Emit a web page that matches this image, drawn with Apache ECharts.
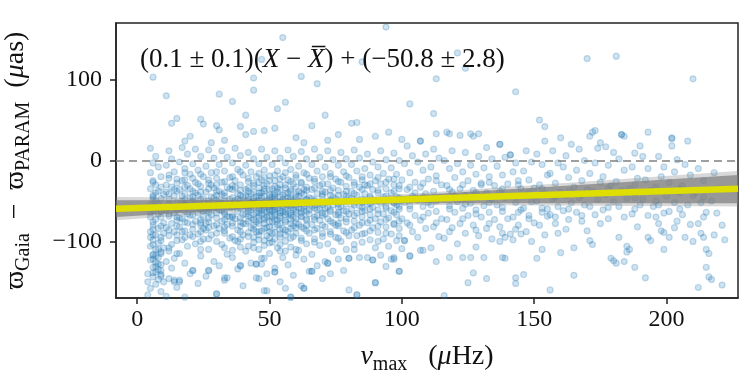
<!DOCTYPE html>
<html>
<head>
<meta charset="utf-8">
<script src="https://cdn.jsdelivr.net/npm/echarts@6/dist/echarts.min.js"></script>
<style>
  html, body { margin: 0; padding: 0; background: #fff; }
  #main { width: 750px; height: 375px; }
</style>
</head>
<body>
<div id="main"></div>
<script>
// tick positions
const xTicks = [0, 50, 100, 150, 200];
const yTicks = [-100, 0, 100];

// stars: [nu_max (uHz), parallax difference (uas)]
const stars = [
  // low nu_max streak
  [5,15],[7,5],[6,-3],[8,-8],[5,-15],[9,-20],[6,-25],[7,-30],[5,-35],[8,-38],[10,-42],[6,-45],[7,-50],[5,-55],[9,-58],
  [6,-62],[8,-66],[5,-70],[7,-73],[10,-77],[6,-80],[8,-84],[5,-88],[7,-92],[9,-95],[6,-98],[8,-102],[5,-106],[7,-110],
  [9,-113],[6,-116],[8,-120],[5,-123],[7,-126],[9,-129],[6,-132],[8,-135],[7,-138],[9,-141],[6,-144],[8,-147],[10,-150],
  [7,-153],[5,-158],[9,-162],[4,-166],[11,-168],[8,-128],[7,-118],[10,-108],[6,-122],[9,-136],[5,-95],[10,-60],[11,-30],
  [10,-90],[11,-125],[4,-140],[4,-150],[6,-48],[8,-54],[5,-64],[7,-40],[9,-70],[6,-85],[8,-110],[7,-131],[6,-139],
  // dense clump 11-100
  [12,12],[13,2],[11,-6],[14,-14],[12,-22],[15,-28],[13,-33],[11,-39],[14,-44],[12,-48],[15,-52],[13,-57],[11,-61],
  [14,-65],[12,-69],[15,-74],[13,-78],[11,-83],[14,-88],[12,-93],[15,-99],[13,-104],[12,-112],[14,-121],[13,-133],
  [12,-146],[15,-157],[14,-36],[12,-58],[15,-81],[14,-150],[16,-148],[18,-169],
  [17,16],[19,8],[16,-2],[18,-10],[20,-17],[17,-25],[19,-31],[16,-36],[18,-41],[20,-46],[17,-50],[19,-55],[16,-59],
  [18,-63],[20,-68],[17,-72],[19,-77],[16,-82],[18,-87],[20,-92],[17,-98],[19,-106],[16,-115],[18,-127],[20,-140],
  [17,-44],[19,-66],[16,-71],[18,-53],[20,-35],[17,-88],[18,-24],
  [22,14],[24,5],[21,-4],[23,-12],[25,-20],[22,-27],[24,-32],[21,-38],[23,-43],[25,-47],[22,-52],[24,-56],[21,-60],
  [23,-65],[25,-70],[22,-75],[24,-80],[21,-85],[23,-91],[25,-97],[22,-103],[24,-118],[21,-136],[23,-152],[25,-62],
  [22,-40],[24,-73],[21,-50],[23,-29],[25,-84],[24,-110],
  [27,13],[29,3],[26,-7],[28,-15],[30,-22],[27,-28],[29,-34],[26,-39],[28,-45],[30,-49],[27,-53],[29,-58],[26,-62],
  [28,-67],[30,-71],[27,-76],[29,-81],[26,-86],[28,-92],[30,-100],[27,-110],[29,-125],[30,-165],[26,-143],[28,-55],
  [30,-38],[27,-64],[29,-46],[26,-78],[28,-30],[27,-136],
  [32,12],[34,4],[31,-5],[33,-13],[35,-21],[32,-27],[34,-33],[31,-38],[33,-44],[35,-48],[32,-53],[34,-57],[31,-61],
  [33,-66],[35,-70],[32,-75],[34,-79],[31,-84],[33,-90],[35,-96],[32,-104],[34,-116],[31,-130],[33,-148],[35,-58],
  [32,-42],[34,-69],[31,-51],[33,-82],[35,-35],[32,-62],[33,-145],
  [37,15],[39,6],[36,-3],[38,-11],[40,-18],[37,-25],[39,-30],[36,-36],[38,-41],[40,-45],[37,-50],[39,-54],[36,-58],
  [38,-63],[40,-67],[37,-72],[39,-76],[36,-81],[38,-86],[40,-92],[37,-99],[39,-107],[36,-120],[38,-134],[40,-155],
  [37,-56],[39,-43],[36,-70],[38,-48],[40,-78],[37,-33],[39,-88],[39,-130],[38,-100],
  [42,10],[44,2],[41,-6],[43,-14],[45,-20],[42,-26],[44,-31],[41,-36],[43,-41],[45,-45],[42,-49],[44,-53],[41,-57],
  [43,-61],[45,-65],[42,-69],[44,-73],[41,-78],[43,-83],[45,-88],[42,-94],[44,-101],[41,-112],[43,-127],[45,-145],
  [42,-60],[44,-47],[41,-66],[43,-52],[45,-76],[42,-38],[44,-85],[41,-44],[43,-71],[45,-128],[44,-108],
  [47,14],[49,4],[46,-4],[48,-12],[50,-19],[47,-24],[49,-29],[46,-34],[48,-38],[50,-42],[47,-46],[49,-50],[46,-54],
  [48,-58],[50,-62],[47,-66],[49,-70],[46,-74],[48,-78],[50,-82],[47,-87],[49,-93],[46,-98],[48,-105],[50,-115],
  [47,-128],[49,-140],[48,-161],[46,-44],[48,-52],[50,-57],[47,-61],[49,-64],[46,-69],[48,-73],[50,-49],[47,-40],
  [49,-83],[46,-88],[48,-31],[47,-121],[50,-96],[46,-60],
  [52,12],[54,3],[51,-5],[53,-13],[55,-20],[52,-25],[54,-30],[51,-35],[53,-39],[55,-43],[52,-47],[54,-51],[51,-55],
  [53,-59],[55,-63],[52,-67],[54,-71],[51,-75],[53,-79],[55,-84],[52,-89],[54,-95],[51,-101],[53,-108],[55,-120],
  [52,-133],[54,-150],[51,-45],[53,-53],[55,-57],[52,-61],[54,-65],[51,-70],[53,-74],[55,-48],[52,-41],[54,-86],
  [51,-90],[53,-34],[52,-138],[54,-112],[51,-62],
  [57,13],[59,5],[56,-3],[58,-11],[60,-18],[57,-24],[59,-29],[56,-34],[58,-38],[60,-42],[57,-46],[59,-50],[56,-54],
  [58,-58],[60,-62],[57,-66],[59,-70],[56,-74],[58,-78],[60,-83],[57,-88],[59,-94],[56,-100],[58,-107],[60,-117],
  [57,-129],[59,-142],[56,-158],[58,-46],[60,-52],[57,-56],[59,-61],[56,-64],[58,-68],[60,-72],[57,-40],[59,-81],
  [56,-92],[58,-169],[60,-110],
  [62,11],[64,2],[61,-7],[63,-15],[65,-22],[62,-28],[64,-33],[61,-38],[63,-42],[65,-46],[62,-50],[64,-54],[61,-58],
  [63,-62],[65,-66],[62,-70],[64,-74],[61,-79],[63,-84],[65,-90],[62,-96],[64,-103],[61,-111],[63,-122],[65,-137],
  [62,-155],[64,-48],[61,-53],[63,-57],[65,-61],[62,-65],[64,-80],[61,-44],[63,-36],[63,-158],
  [67,14],[69,4],[66,-5],[68,-13],[70,-20],[67,-26],[69,-31],[66,-36],[68,-41],[70,-45],[67,-49],[69,-53],[66,-57],
  [68,-61],[70,-65],[67,-70],[69,-74],[66,-79],[68,-84],[70,-90],[67,-97],[69,-105],[66,-116],[68,-130],[70,-146],
  [67,-55],[69,-60],[66,-47],[68,-68],[70,-38],[66,-137],
  [72,12],[74,1],[71,-8],[73,-16],[75,-23],[72,-29],[74,-34],[71,-39],[73,-43],[75,-47],[72,-51],[74,-55],[71,-59],
  [73,-63],[75,-67],[72,-72],[74,-77],[71,-82],[73,-88],[75,-95],[72,-103],[74,-112],[71,-125],[73,-140],[72,-58],
  [74,-45],[71,-66],[73,-51],[75,-80],[72,-127],
  [77,10],[79,2],[76,-6],[78,-14],[80,-21],[77,-27],[79,-32],[76,-37],[78,-42],[80,-46],[77,-50],[79,-54],[76,-58],
  [78,-62],[80,-66],[77,-71],[79,-76],[76,-81],[78,-87],[80,-93],[77,-100],[79,-110],[76,-122],[78,-136],[80,-160],
  [77,-57],[79,-44],[76,-64],[80,-121],
  [82,13],[84,3],[81,-5],[83,-13],[85,-20],[82,-27],[84,-33],[81,-38],[83,-43],[85,-48],[82,-52],[84,-56],[81,-60],
  [83,-65],[85,-70],[82,-75],[84,-80],[81,-86],[83,-93],[85,-101],[82,-110],[84,-120],[83,-166],[81,-47],[85,-58],
  [87,8],[89,-2],[86,-10],[88,-18],[90,-25],[87,-31],[89,-36],[86,-41],[88,-46],[90,-50],[87,-54],[89,-58],[86,-62],
  [88,-67],[90,-72],[87,-77],[89,-83],[86,-90],[88,-98],[90,-108],[87,-120],[90,-151],[88,-53],[86,-30],[89,-123],
  [92,12],[94,1],[91,-8],[93,-16],[95,-23],[92,-29],[94,-35],[91,-40],[93,-45],[95,-49],[92,-53],[94,-57],[91,-61],
  [93,-66],[95,-71],[92,-76],[94,-82],[91,-89],[93,-97],[95,-106],[92,-117],[94,-131],[93,-50],[96,-122],
  [97,9],[99,0],[96,-9],[98,-17],[100,-24],[97,-30],[99,-35],[96,-40],[98,-45],[100,-49],[97,-53],[99,-57],[96,-62],
  [98,-67],[100,-72],[97,-78],[99,-84],[96,-91],[98,-99],[100,-109],[99,-137],[97,-120],[98,-55],
  // sparser high nu_max side
  [102,18],[104,6],[101,-4],[103,-15],[105,-27],[102,-36],[104,-44],[101,-52],[103,-60],[105,-68],[102,-77],
  [104,-88],[101,-99],[103,-118],[105,-40],
  [107,24],[109,8],[106,-2],[108,-12],[110,-23],[107,-33],[109,-41],[106,-49],[108,-57],[110,-65],[107,-74],
  [109,-84],[106,-95],[108,-111],[110,-52],
  [112,14],[114,3],[111,-8],[113,-19],[115,-30],[112,-38],[114,-46],[111,-55],[113,-63],[115,-72],[112,-82],
  [114,-94],[111,-108],[113,-125],[116,-167],
  [117,35],[119,12],[116,0],[118,-10],[120,-21],[117,-31],[119,-39],[116,-47],[118,-56],[120,-64],[117,-73],
  [119,-83],[116,-96],[118,-120],[120,-44],
  [122,31],[124,10],[121,-4],[123,-14],[125,-25],[122,-35],[124,-43],[121,-51],[123,-59],[125,-68],[122,-78],
  [124,-90],[121,-103],[123,-120],[125,-151],[124,-54],
  [127,30],[129,5],[126,-6],[128,-17],[130,-28],[127,-37],[129,-45],[126,-53],[128,-61],[130,-70],[127,-80],
  [129,-93],[128,-107],[127,-139],[126,-120],[130,-30],
  [132,16],[134,2],[131,-9],[133,-20],[135,-31],[132,-40],[134,-48],[131,-56],[133,-64],[135,-73],[132,-84],
  [134,-97],[131,-120],[132,-146],
  [137,20],[139,4],[136,-7],[138,-18],[140,-29],[137,-38],[139,-46],[136,-55],[138,-63],[140,-72],[137,-82],
  [139,-95],[137,-100],[138,-120],[139,-121],
  [141,7],[143,-3],[142,-14],[144,-25],[145,-35],[141,-44],[143,-52],[145,-61],[142,-70],[144,-80],[141,-91],
  [145,-91],[142,-98],[143,-85],[143,-145],[146,-141],[143,-152],
  [147,12],[149,-2],[146,-13],[148,-24],[150,-34],[147,-43],[149,-51],[146,-59],[148,-68],[150,-77],[147,-88],[149,-100],
  [152,50],[154,42],[154,24],[151,8],[153,-5],[155,-18],[152,-30],[154,-41],[151,-50],[153,-59],[155,-69],
  [152,-80],[154,-92],[153,-110],[151,-121],[155,-60],
  [160,28],[157,12],[159,-3],[156,-16],[158,-28],[160,-39],[157,-48],[159,-57],[156,-67],[158,-78],[160,-114],
  [156,-160],[159,-90],
  [164,20],[162,6],[161,-8],[163,-21],[165,-33],[162,-43],[164,-52],[161,-62],[163,-73],[165,-108],[165,-142],[162,-85],
  [167,14],[169,0],[166,-12],[168,-25],[170,-36],[167,-46],[169,-55],[166,-64],[168,-75],[170,-87],[170,126],
  [171,30],[172,35],[173,37],[174,15],[173,-3],[171,-16],[175,-27],[172,-38],[174,-48],[171,-57],[173,-67],
  [175,-78],[172,-104],[171,-99],[175,22],
  [177,17],[180,10],[178,-6],[176,-20],[179,-31],[177,-42],[180,-51],[176,-61],[178,-72],[180,-124],[179,-121],[181,-127],
  [181,129],[183,32],[184,30],[182,2],[184,-12],[181,-26],[183,-37],[185,-47],[182,-57],[184,-70],[184,-125],
  [182,-95],[185,-106],[185,-113],
  [190,18],[188,9],[187,-8],[189,-22],[186,-35],[188,-46],[190,-55],[187,-66],[189,-82],[188,-132],[186,-110],
  [191,5],[193,-10],[192,-24],[194,-37],[191,-48],[195,-57],[193,-68],[192,-145],[193,-95],[194,-99],
  [197,5],[199,-8],[198,-20],[196,-33],[200,-44],[197,-55],[199,-65],[198,-87],[199,-89],[199,-110],[197,-78],
  [202,27],[202,18],[204,1],[203,-14],[201,-27],[205,-40],[203,-52],[201,-63],[204,-75],[201,-95],[203,-83],
  [208,24],[210,101],[207,-5],[209,-18],[206,-31],[210,-43],[208,-55],[206,-67],[209,-79],[207,-95],[210,-100],
  [212,-10],[214,-25],[211,-40],[213,-52],[215,-64],[212,-78],[214,-95],[215,-110],[216,-115],[215,-132],
  [212,-157],[213,-90],
  [218,-15],[220,-35],[217,-50],[219,-65],[221,-80],[216,-144],[217,-147],[218,-92],[222,-98],[221,-154],
  // outliers above the bulk
  [11,80],[31,82],[44,87],[36,73],[53,64],[56,72],[103,70],[15,52],[13,46],[24,51],[25,45],[41,56],[30,43],
  [31,38],[39,42],[41,32],[44,36],[48,37],[52,40],[71,56],[66,43],[76,32],[81,46],[83,47],[84,26],[100,26],
  [107,24],[55,152],[94,165],[6,103],[47,125],[44,102],[62,104],[68,95],[85,122],[121,133],[124,114],[113,101],
  [143,85],[112,58],[20,30],[60,28],[90,30],[63,22],[18,24],[72,25],[95,35],[33,25],[28,22],[113,33],[118,33],
  [126,33],[129,33],[183,32],[193,35],[202,28],[137,20],[141,7],
  // outliers below the bulk
  [30,-165],[21,-136],[49,-161],[66,-137],[72,-127],[83,-166],[90,-151],[99,-137],[103,-118],[107,-111],
  [16,-150],[14,-148],[27,-136],[34,-145],[39,-130],[45,-128],[46,-146],[48,-121],[52,-138],[58,-169],[63,-158],
  [80,-121],[89,-123],[97,-122],[101,-99]
];

// extra stars filling the crowded core of the cloud
const coreStars = [
  [6,-27],[6,-43],[6,-58],[6,-76],[6,-92],[6,-104],[6,-117],
  [9,-33],[9,-47],[9,-63],[9,-81],[9,-99],[9,-115],[9,-143],
  [12,-18],[12,-41],[12,-54],[12,-66],[12,-86],[12,-108],
  [15,-23],[15,-38],[15,-61],[15,-70],[15,-92],[15,-115],
  [18,-15],[18,-33],[18,-49],[18,-58],[18,-76],[18,-95],
  [21,-22],[21,-45],[21,-57],[21,-67],[21,-79],[21,-94],
  [24,-17],[24,-39],[24,-48],[24,-61],[24,-77],[24,-88],[24,-100],
  [27,-24],[27,-35],[27,-50],[27,-59],[27,-71],[27,-83],[27,-97],
  [30,-14],[30,-30],[30,-43],[30,-56],[30,-65],[30,-79],[30,-90],
  [33,-26],[33,-40],[33,-50],[33,-64],[33,-73],[33,-87],[33,-108],
  [36,-20],[36,-31],[36,-46],[36,-55],[36,-68],[36,-77],[36,-94],[36,-111],
  [39,-14],[39,-37],[39,-49],[39,-59],[39,-71],[39,-81],[39,-97],
  [42,-22],[42,-34],[42,-45],[42,-54],[42,-63],[42,-75],[42,-89],[42,-106],
  [44,-28],[44,-39],[44,-50],[44,-58],[44,-67],[44,-80],[44,-95],
  [46,-16],[46,-27],[46,-40],[46,-49],[46,-57],[46,-65],[46,-78],[46,-92],[46,-110],
  [48,-21],[48,-35],[48,-44],[48,-55],[48,-62],[48,-71],[48,-84],[48,-99],
  [50,-25],[50,-37],[50,-46],[50,-53],[50,-60],[50,-68],[50,-76],[50,-88],[50,-102],
  [52,-18],[52,-32],[52,-43],[52,-50],[52,-57],[52,-64],[52,-73],[52,-82],[52,-97],
  [54,-23],[54,-36],[54,-45],[54,-54],[54,-62],[54,-69],[54,-78],[54,-91],[54,-104],
  [56,-15],[56,-30],[56,-41],[56,-50],[56,-59],[56,-67],[56,-76],[56,-86],[56,-112],
  [58,-26],[58,-36],[58,-48],[58,-56],[58,-65],[58,-73],[58,-84],[58,-96],
  [60,-21],[60,-33],[60,-45],[60,-55],[60,-64],[60,-77],[60,-90],
  [62,-27],[62,-40],[62,-52],[62,-60],[62,-69],[62,-82],[62,-99],
  [64,-17],[64,-37],[64,-49],[64,-63],[64,-72],[64,-87],
  [67,-23],[67,-34],[67,-51],[67,-59],[67,-73],[67,-86],[67,-101],
  [70,-29],[70,-42],[70,-55],[70,-68],[70,-80],[70,-94],
  [73,-20],[73,-37],[73,-49],[73,-61],[73,-75],[73,-91],
  [76,-26],[76,-43],[76,-54],[76,-67],[76,-78],[76,-96],
  [79,-19],[79,-38],[79,-50],[79,-63],[79,-72],[79,-89],
  [82,-30],[82,-41],[82,-55],[82,-68],[82,-83],[82,-104],
  [85,-24],[85,-36],[85,-52],[85,-63],[85,-77],[85,-91],
  [88,-29],[88,-44],[88,-60],[88,-74],[88,-87],
  [91,-21],[91,-37],[91,-50],[91,-66],[91,-81],[91,-100],
  [94,-27],[94,-44],[94,-59],[94,-73],[94,-90],
  [97,-23],[97,-38],[97,-52],[97,-64],[97,-79],
  [99,-31],[99,-46],[99,-60],[99,-75],[99,-93],
  [103,-33],[103,-56],[103,-80],[108,-28],[108,-45],[108,-70],[113,-25],[113,-50],[113,-77],
  [118,-36],[118,-60],[118,-88],[123,-30],[123,-47],[123,-72],[128,-40],[128,-66],[128,-86],
  [133,-27],[133,-52],[133,-78],[138,-35],[138,-58],[138,-90],[144,-30],[144,-64],[148,-40],[148,-72],
  [153,-35],[153,-64],[158,-45],[158,-70],[163,-38],[163,-60],[168,-42],[168,-68],[178,-35],[178,-58],
  [188,-30],[188,-60],[196,-50],[196,-70],[205,-35],[205,-60],[214,-45],[214,-70]
];

// fit line and its uncertainty band
const fitX = [-8, 227];
const fitY = [-59.7, -35.0];
const bandX = [-8, 77, 227];
const bandInnerLo = [-70, -53, -53];
const bandInnerHi = [-49, -48.5, -18];
const bandOuterLo = [-74, -54.5, -57];
const bandOuterHi = [-45, -47, -13];

const serif = "'Liberation Serif', 'DejaVu Serif', serif";

function bandSeries(lo, hi, fill) {
  return {
    type: 'custom',
    silent: true,
    clip: true,
    z: 3,
    data: [0],
    renderItem: function (params, api) {
      const pts = [];
      for (let i = 0; i < bandX.length; i++) pts.push(api.coord([bandX[i], hi[i]]));
      for (let i = bandX.length - 1; i >= 0; i--) pts.push(api.coord([bandX[i], lo[i]]));
      return { type: 'polygon', shape: { points: pts }, style: { fill: fill } };
    }
  };
}

const chart = echarts.init(document.getElementById('main'));

const labelRich = {
  i: { fontFamily: serif, fontStyle: 'italic', fontSize: 28, color: '#111', lineHeight: 36 },
  r: { fontFamily: serif, fontSize: 28, color: '#111', lineHeight: 36 },
  s: { fontFamily: serif, fontSize: 20, color: '#111', lineHeight: 22, verticalAlign: 'bottom' }
};

const option = {
  animation: false,
  backgroundColor: '#fff',
  grid: {
    left: 116, right: 12, top: 23, bottom: 77,
    outerBoundsMode: 'none',
    show: true, borderColor: '#222', borderWidth: 1.5
  },
  xAxis: {
    type: 'value',
    min: -8, max: 227,
    splitLine: { show: false },
    axisLine: { onZero: false, lineStyle: { color: '#222', width: 1.5 } },
    axisTick: { customValues: xTicks, length: 6, lineStyle: { color: '#222', width: 1.5 } },
    axisLabel: { customValues: xTicks, margin: 10, color: '#111', fontFamily: serif, fontSize: 24 },
    name: '{i|ν}{s|max}{r|   (}{i|μ}{r|Hz)}',
    nameLocation: 'middle',
    nameGap: 41,
    nameTextStyle: { rich: labelRich }
  },
  yAxis: {
    type: 'value',
    min: -170, max: 170,
    splitLine: { show: false },
    axisLine: { onZero: false, lineStyle: { color: '#222', width: 1.5 } },
    axisTick: { customValues: yTicks, length: 6, lineStyle: { color: '#222', width: 1.5 } },
    axisLabel: {
      customValues: yTicks, margin: 14, color: '#111', fontFamily: serif, fontSize: 24,
      formatter: v => (v < 0 ? '\u2212' + Math.abs(v) : String(v))
    },
    name: '{r|ϖ}{s|Gaia}{r|  \u2212  ϖ}{s|PARAM}{r|  (}{i|μ}{r|as)}',
    nameLocation: 'middle',
    nameRotate: 90,
    nameGap: 82,
    nameTextStyle: { rich: labelRich }
  },
  graphic: [{
    type: 'text',
    left: 140,
    top: 46,
    z: 20,
    style: {
      text: '{r|(0.1 ± 0.1)(}{i|X}{r| \u2212 }{i|X\u0305}{r|) + (\u221250.8 ± 2.8)}',
      rich: {
        r: { fontFamily: serif, fontSize: 27, fill: '#111' },
        i: { fontFamily: serif, fontStyle: 'italic', fontSize: 27, fill: '#111' }
      }
    }
  }],
  series: [
    {
      type: 'scatter',
      data: stars.concat(coreStars),
      symbolSize: 6,
      progressive: 0,
      large: false,
      z: 2,
      itemStyle: {
        color: 'rgba(31,119,180,0.27)',
        borderColor: 'rgba(31,119,180,0.3)',
        borderWidth: 1.2
      },
      markLine: {
        silent: true,
        symbol: 'none',
        label: { show: false },
        lineStyle: { color: '#808080', type: [8, 5], width: 1.5 },
        data: [{ yAxis: 0 }]
      }
    },
    bandSeries(bandOuterLo, bandOuterHi, 'rgba(125,125,125,0.3)'),
    bandSeries(bandInnerLo, bandInnerHi, 'rgba(125,125,125,0.7)'),
    {
      type: 'line',
      data: fitX.map((x, i) => [x, fitY[i]]),
      showSymbol: false,
      silent: true,
      z: 5,
      lineStyle: { color: '#dede00', width: 6.5 }
    }
  ]
};

chart.setOption(option);
</script>
</body>
</html>
